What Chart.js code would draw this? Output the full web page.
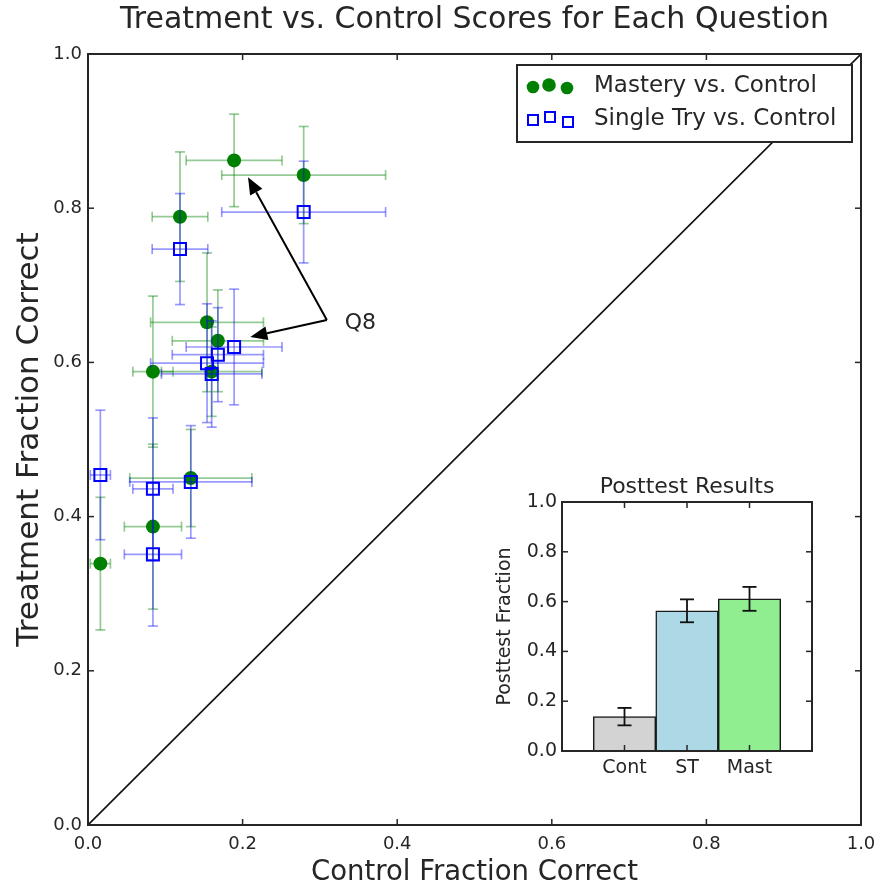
<!DOCTYPE html>
<html>
<head>
<meta charset="utf-8">
<script src="https://cdn.jsdelivr.net/npm/chart.js@4.4.0/dist/chart.umd.min.js"></script>
<style>
  html, body { margin: 0; padding: 0; background: #ffffff; }
  #wrap { position: relative; width: 879px; height: 893px; }
  #main { position: absolute; left: 0; top: 0; }
  #inset { position: absolute; left: 480px; top: 462px; }
</style>
</head>
<body>
<div id="wrap">
  <canvas id="main" width="879" height="893"></canvas>
  <canvas id="inset" width="350" height="325"></canvas>
</div>
<script>
// Per-question results: control-group fraction correct (x) against each treatment (y)
const controlFrac = [0.189, 0.279, 0.119, 0.154, 0.168, 0.084, 0.160, 0.133, 0.084, 0.016];
const controlErr  = [0.062, 0.106, 0.036, 0.073, 0.059, 0.026, 0.065, 0.079, 0.037, 0.013];
const masteryFrac = [0.862, 0.843, 0.789, 0.652, 0.628, 0.588, 0.588, 0.450, 0.387, 0.339];
const masteryErr  = [0.060, 0.063, 0.084, 0.090, 0.066, 0.098, 0.058, 0.063, 0.107, 0.086];
const singleFrac  = [0.620, 0.795, 0.747, 0.599, 0.610, 0.436, 0.585, 0.445, 0.351, 0.454];
const singleErr   = [0.075, 0.066, 0.072, 0.077, 0.061, 0.092, 0.069, 0.073, 0.093, 0.084];
const axisTicks   = [0.0, 0.2, 0.4, 0.6, 0.8, 1.0];
const identityLine = [0, 1];

// Posttest summary (inset bar chart)
const posttestGroups = ['Cont', 'ST', 'Mast'];
const posttestMean   = [0.138, 0.563, 0.611];
const posttestErr    = [0.035, 0.046, 0.048];
const posttestTicks  = [0.0, 0.2, 0.4, 0.6, 0.8, 1.0];

// "Q8" callout, in data coordinates
const calloutText  = 'Q8';
const calloutLabel = { x: 0.332, y: 0.651 };
const calloutTail  = { x: 0.309, y: 0.655 };
const calloutTips  = [{ x: 0.207, y: 0.840 }, { x: 0.210, y: 0.633 }];

const FONT = "'DejaVu Sans', 'Liberation Sans', sans-serif";
const INK = '#262626';
const GREEN = '#008000';
const BLUE = '#0000ff';

Chart.defaults.font.family = FONT;
Chart.defaults.color = INK;

function strokeLine(ctx, x0, y0, x1, y1) {
  ctx.beginPath();
  ctx.moveTo(x0, y0);
  ctx.lineTo(x1, y1);
  ctx.stroke();
}

// Error bars with caps, positioned through the chart's own scales
function drawErrorBars(ctx, xScale, yScale, xs, ys, xErr, yErr, color, width, cap) {
  ctx.save();
  ctx.strokeStyle = color;
  ctx.lineWidth = width;
  for (let i = 0; i < xs.length; i++) {
    if (ys[i] === null || ys[i] === undefined) continue;
    const cx = xScale.getPixelForValue(xs[i]);
    const cy = yScale.getPixelForValue(ys[i]);
    if (xErr) {
      const x0 = xScale.getPixelForValue(xs[i] - xErr[i]);
      const x1 = xScale.getPixelForValue(xs[i] + xErr[i]);
      strokeLine(ctx, x0, cy, x1, cy);
      strokeLine(ctx, x0, cy - cap, x0, cy + cap);
      strokeLine(ctx, x1, cy - cap, x1, cy + cap);
    }
    if (yErr) {
      const y0 = yScale.getPixelForValue(ys[i] - yErr[i]);
      const y1 = yScale.getPixelForValue(ys[i] + yErr[i]);
      strokeLine(ctx, cx, y0, cx, y1);
      strokeLine(ctx, cx - cap, y0, cx + cap, y0);
      strokeLine(ctx, cx - cap, y1, cx + cap, y1);
    }
  }
  ctx.restore();
}

// Axes box with inward tick marks on all four sides
function framePlugin(xTickValues, yTickValues, tickLen) {
  return {
    id: 'frame',
    afterDatasetsDraw(chart) {
      const { ctx, chartArea: a, scales } = chart;
      ctx.save();
      ctx.strokeStyle = INK;
      ctx.lineWidth = 1.5;
      xTickValues.forEach(v => {
        const px = scales.x.getPixelForValue(v);
        strokeLine(ctx, px, a.bottom, px, a.bottom - tickLen);
        strokeLine(ctx, px, a.top, px, a.top + tickLen);
      });
      yTickValues.forEach(v => {
        const py = scales.y.getPixelForValue(v);
        strokeLine(ctx, a.left, py, a.left + tickLen, py);
        strokeLine(ctx, a.right, py, a.right - tickLen, py);
      });
      ctx.lineWidth = 2;
      ctx.strokeRect(a.left, a.top, a.right - a.left, a.bottom - a.top);
      ctx.restore();
    }
  };
}

function fixedBox(size, horizontal) {
  return function (scale) {
    if (horizontal) scale.height = size; else scale.width = size;
    scale.paddingLeft = 0; scale.paddingRight = 0;
    scale.paddingTop = 0; scale.paddingBottom = 0;
  };
}

function useTicks(values) {
  return function (scale) { scale.ticks = values.map(v => ({ value: v })); };
}

// Error bars drawn just beneath each marker series
const scatterErrors = {
  id: 'scatterErrors',
  beforeDatasetDraw(chart, args) {
    const { ctx, scales } = chart;
    if (args.index === 0) {
      drawErrorBars(ctx, scales.x, scales.y, controlFrac, masteryFrac, controlErr, masteryErr,
        'rgba(0,128,0,0.42)', 1.7, 5);
    } else if (args.index === 1) {
      drawErrorBars(ctx, scales.x, scales.y, controlFrac, singleFrac, controlErr, singleErr,
        'rgba(0,0,255,0.40)', 1.7, 5);
    }
  }
};

// "Q8" label with two arrows
const callout = {
  id: 'callout',
  afterDatasetsDraw(chart) {
    const { ctx, scales } = chart;
    const tx = scales.x.getPixelForValue(calloutTail.x);
    const ty = scales.y.getPixelForValue(calloutTail.y);
    ctx.save();
    ctx.strokeStyle = '#000';
    ctx.fillStyle = '#000';
    ctx.lineWidth = 2;
    calloutTips.forEach(tip => {
      const hx = scales.x.getPixelForValue(tip.x);
      const hy = scales.y.getPixelForValue(tip.y);
      const ang = Math.atan2(hy - ty, hx - tx);
      const headLen = 17, headHalf = 7;
      const bx = hx - headLen * Math.cos(ang);
      const by = hy - headLen * Math.sin(ang);
      strokeLine(ctx, tx, ty, bx, by);
      ctx.beginPath();
      ctx.moveTo(hx, hy);
      ctx.lineTo(bx + headHalf * Math.sin(ang), by - headHalf * Math.cos(ang));
      ctx.lineTo(bx - headHalf * Math.sin(ang), by + headHalf * Math.cos(ang));
      ctx.closePath();
      ctx.fill();
    });
    ctx.font = '22px ' + FONT;
    ctx.fillStyle = INK;
    ctx.textAlign = 'left';
    ctx.textBaseline = 'middle';
    ctx.fillText(calloutText, scales.x.getPixelForValue(calloutLabel.x), scales.y.getPixelForValue(calloutLabel.y));
    ctx.restore();
  }
};

// Legend box with three sample markers per entry
const markerLegend = {
  id: 'markerLegend',
  afterDraw(chart) {
    const { ctx, chartArea: a } = chart;
    const w = 335, h = 77;
    const left = a.right - 9 - w, top = a.top + 11;
    ctx.save();
    ctx.fillStyle = '#ffffff';
    ctx.fillRect(left, top, w, h);
    ctx.strokeStyle = INK;
    ctx.lineWidth = 2;
    ctx.strokeRect(left, top, w, h);

    const ds = chart.data.datasets;
    // mastery: filled circles
    ctx.fillStyle = ds[0].backgroundColor;
    [[16, 22, 6.3], [32, 20, 6.8], [50, 23, 6.3]].forEach(([dx, dy, r]) => {
      ctx.beginPath();
      ctx.arc(left + dx, top + dy, r, 0, Math.PI * 2);
      ctx.fill();
    });
    // single try: hollow squares
    ctx.strokeStyle = ds[1].borderColor;
    ctx.lineWidth = 2;
    [[16, 55, 10], [33, 52, 10], [51, 57, 10]].forEach(([dx, dy, s]) => {
      ctx.strokeRect(left + dx - s / 2, top + dy - s / 2, s, s);
    });

    ctx.fillStyle = INK;
    ctx.font = '23px ' + FONT;
    ctx.textAlign = 'left';
    ctx.textBaseline = 'middle';
    ctx.fillText(ds[0].label, left + 77, top + 21);
    ctx.fillText(ds[1].label, left + 77, top + 54);
    ctx.restore();
  }
};

new Chart(document.getElementById('main'), {
  type: 'scatter',
  data: {
    datasets: [
      {
        label: 'Mastery vs. Control',
        data: controlFrac.map((x, i) => ({ x, y: masteryFrac[i] })),
        pointStyle: 'circle',
        pointRadius: 7,
        backgroundColor: GREEN,
        borderColor: GREEN,
        borderWidth: 0,
        order: 2
      },
      {
        label: 'Single Try vs. Control',
        data: controlFrac.map((x, i) => ({ x, y: singleFrac[i] })),
        pointStyle: 'rect',
        pointRadius: 8.5,
        backgroundColor: 'rgba(0,0,0,0)',
        borderColor: BLUE,
        borderWidth: 2,
        order: 1
      },
      {
        type: 'line',
        label: 'y = x',
        data: identityLine.map(v => ({ x: v, y: v })),
        borderColor: '#111111',
        borderWidth: 1.6,
        pointRadius: 0,
        showLine: true,
        fill: false,
        order: 3
      }
    ]
  },
  options: {
    responsive: false,
    animation: false,
    devicePixelRatio: 1,
    layout: { padding: { left: 0, right: 18, top: 0, bottom: 0 } },
    plugins: {
      legend: { display: false },
      tooltip: { enabled: false },
      title: {
        display: true,
        fullSize: false,
        text: 'Treatment vs. Control Scores for Each Question',
        color: INK,
        font: { family: FONT, size: 30, weight: 'normal' },
        padding: { top: 2, bottom: 16 }
      }
    },
    scales: {
      x: {
        type: 'linear',
        min: 0, max: 1,
        afterBuildTicks: useTicks(axisTicks),
        afterFit: fixedBox(68, true),
        grid: { display: false, drawTicks: false },
        border: { display: false },
        ticks: {
          color: INK, font: { family: FONT, size: 18 }, padding: 9, maxRotation: 0,
          callback: v => Number(v).toFixed(1)
        },
        title: {
          display: true, text: 'Control Fraction Correct', color: INK,
          font: { family: FONT, size: 27.5 }, padding: { top: 0, bottom: 3.5 }
        }
      },
      y: {
        type: 'linear',
        min: 0, max: 1,
        afterBuildTicks: useTicks(axisTicks),
        afterFit: fixedBox(88, false),
        grid: { display: false, drawTicks: false },
        border: { display: false },
        ticks: {
          color: INK, font: { family: FONT, size: 18 }, padding: 6,
          callback: v => Number(v).toFixed(1)
        },
        title: {
          display: true, text: 'Treatment Fraction Correct', color: INK,
          font: { family: FONT, size: 31 }, padding: { top: 11.4, bottom: 0 }
        }
      }
    }
  },
  plugins: [scatterErrors, framePlugin(axisTicks, axisTicks, 6), callout, markerLegend]
});

// Inset: posttest means with error bars
const insetLabels = [''].concat(posttestGroups, ['']);
const insetValues = [null].concat(posttestMean, [null]);
const insetErrors = [null].concat(posttestErr, [null]);
const insetIndex = insetLabels.map((_, i) => i);

const insetErrorBars = {
  id: 'insetErrorBars',
  afterDatasetsDraw(chart) {
    const { ctx, scales } = chart;
    drawErrorBars(ctx, scales.x, scales.y, insetIndex, insetValues, null, insetErrors, '#111111', 1.8, 7);
  }
};

new Chart(document.getElementById('inset'), {
  type: 'bar',
  data: {
    labels: insetLabels,
    datasets: [{
      label: 'Posttest Fraction',
      data: insetValues,
      backgroundColor: ['#ffffff', '#d3d3d3', '#add8e6', '#90ee90', '#ffffff'],
      borderColor: '#1a1a1a',
      borderWidth: 1.5,
      categoryPercentage: 1,
      barPercentage: 1
    }]
  },
  options: {
    responsive: false,
    animation: false,
    devicePixelRatio: 1,
    layout: { padding: { left: 0, right: 18, top: 0, bottom: 0 } },
    plugins: {
      legend: { display: false },
      tooltip: { enabled: false },
      title: {
        display: true,
        fullSize: false,
        text: 'Posttest Results',
        color: INK,
        font: { family: FONT, size: 22, weight: 'normal' },
        padding: { top: 11.8, bottom: 1.8 }
      }
    },
    scales: {
      x: {
        type: 'category',
        offset: false,
        afterFit: fixedBox(36, true),
        grid: { display: false, drawTicks: false },
        border: { display: false },
        ticks: { color: INK, font: { family: FONT, size: 19 }, padding: 6, autoSkip: false, maxRotation: 0 }
      },
      y: {
        type: 'linear',
        min: 0, max: 1,
        afterBuildTicks: useTicks(posttestTicks),
        afterFit: fixedBox(82, false),
        grid: { display: false, drawTicks: false },
        border: { display: false },
        ticks: {
          color: INK, font: { family: FONT, size: 19 }, padding: 5,
          callback: v => Number(v).toFixed(1)
        },
        title: {
          display: true, text: 'Posttest Fraction', color: INK,
          font: { family: FONT, size: 19 }, padding: { top: 13.6, bottom: 0 }
        }
      }
    }
  },
  plugins: [insetErrorBars, framePlugin([1, 2, 3], posttestTicks, 6)]
});
</script>
</body>
</html>
